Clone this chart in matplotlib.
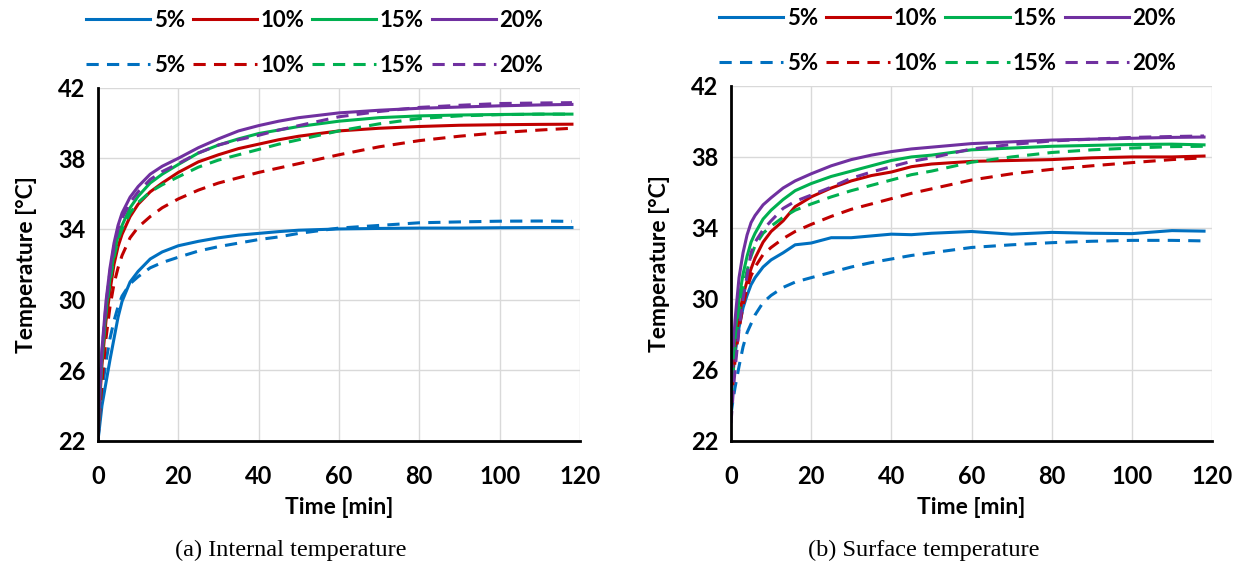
import numpy as np
import matplotlib.pyplot as plt
from matplotlib.lines import Line2D

plt.rcParams['font.family'] = ['Lato', 'DejaVu Sans']
plt.rcParams['font.weight'] = 'bold'

# time [min]
t = [0, 0.5, 1, 2, 3, 4, 5, 6, 8, 10, 13, 16, 20, 25, 30, 35, 40, 45, 50, 60, 70, 80, 90, 100, 110, 118]

# (a) internal temperature, solid / dashed
int_5 = [22.0, 23.0, 24.0, 25.3, 26.6, 27.8, 29.0, 29.9, 31.0, 31.6, 32.3, 32.7, 33.05, 33.3, 33.5, 33.65, 33.75, 33.85, 33.93, 34.0, 34.03, 34.05, 34.05, 34.07, 34.08, 34.08]
int_10 = [22.0, 24.5, 26.3, 28.8, 30.5, 32.0, 33.0, 33.7, 34.7, 35.4, 36.1, 36.6, 37.2, 37.8, 38.2, 38.55, 38.8, 39.05, 39.25, 39.55, 39.7, 39.8, 39.87, 39.9, 39.92, 39.93]
int_15 = [22.0, 24.8, 26.8, 29.4, 31.2, 32.6, 33.6, 34.2, 35.2, 35.85, 36.6, 37.1, 37.65, 38.3, 38.75, 39.1, 39.4, 39.6, 39.8, 40.1, 40.3, 40.4, 40.45, 40.48, 40.5, 40.5]
int_20 = [22.0, 25.0, 27.2, 29.9, 31.8, 33.2, 34.2, 34.9, 35.8, 36.4, 37.1, 37.55, 38.0, 38.6, 39.1, 39.55, 39.85, 40.1, 40.3, 40.57, 40.72, 40.83, 40.9, 40.97, 41.02, 41.05]
int_5d = [22.0, 23.5, 24.8, 26.5, 27.8, 28.8, 29.6, 30.2, 30.9, 31.3, 31.8, 32.1, 32.4, 32.75, 33.0, 33.2, 33.4, 33.55, 33.75, 34.05, 34.2, 34.35, 34.4, 34.44, 34.45, 34.43]
int_10d = [22.0, 23.8, 25.3, 27.8, 29.6, 30.9, 31.8, 32.5, 33.5, 34.1, 34.7, 35.2, 35.7, 36.2, 36.6, 36.9, 37.2, 37.45, 37.7, 38.2, 38.65, 39.0, 39.25, 39.45, 39.6, 39.7]
int_15d = [22.0, 24.6, 26.5, 29.2, 31.0, 32.4, 33.4, 34.0, 34.9, 35.5, 36.1, 36.5, 36.95, 37.5, 37.9, 38.2, 38.5, 38.8, 39.05, 39.55, 39.95, 40.25, 40.4, 40.47, 40.5, 40.5]
int_20d = [22.0, 24.9, 27.0, 29.7, 31.6, 33.0, 34.0, 34.6, 35.5, 36.1, 36.8, 37.25, 37.7, 38.3, 38.75, 39.05, 39.3, 39.6, 39.85, 40.35, 40.65, 40.88, 41.0, 41.1, 41.13, 41.15]

# (b) surface temperature, solid / dashed
sur_5 = [24.5, 25.8, 26.9, 28.4, 29.5, 30.2, 30.8, 31.2, 31.8, 32.2, 32.6, 33.05, 33.15, 33.45, 33.45, 33.55, 33.65, 33.62, 33.7, 33.8, 33.65, 33.75, 33.7, 33.68, 33.85, 33.82]
sur_10 = [24.5, 26.0, 27.3, 29.0, 30.2, 31.0, 31.7, 32.3, 33.2, 33.8, 34.4, 35.2, 35.75, 36.25, 36.65, 36.95, 37.15, 37.45, 37.6, 37.75, 37.8, 37.85, 37.95, 38.0, 38.0, 38.05]
sur_15 = [24.5, 26.5, 28.0, 30.0, 31.4, 32.4, 33.2, 33.7, 34.5, 35.0, 35.6, 36.1, 36.5, 36.9, 37.2, 37.5, 37.8, 38.0, 38.1, 38.4, 38.5, 38.6, 38.65, 38.7, 38.72, 38.68]
sur_20 = [24.5, 27.0, 28.8, 31.2, 32.6, 33.6, 34.3, 34.7, 35.3, 35.7, 36.25, 36.65, 37.05, 37.5, 37.85, 38.1, 38.3, 38.45, 38.55, 38.75, 38.85, 38.95, 39.0, 39.05, 39.1, 39.12]
sur_5d = [23.5, 24.3, 25.0, 26.2, 27.3, 28.1, 28.6, 29.1, 29.8, 30.2, 30.65, 30.95, 31.2, 31.5, 31.8, 32.05, 32.25, 32.45, 32.6, 32.9, 33.05, 33.17, 33.25, 33.3, 33.3, 33.27]
sur_10d = [24.0, 25.3, 26.5, 28.3, 29.6, 30.6, 31.3, 31.8, 32.5, 32.9, 33.4, 33.8, 34.2, 34.65, 35.05, 35.35, 35.65, 35.95, 36.2, 36.7, 37.05, 37.3, 37.5, 37.68, 37.85, 37.95]
sur_15d = [24.3, 25.8, 27.2, 29.2, 30.6, 31.6, 32.4, 33.0, 33.7, 34.1, 34.6, 35.0, 35.35, 35.75, 36.1, 36.4, 36.7, 37.0, 37.2, 37.7, 38.0, 38.25, 38.4, 38.5, 38.58, 38.6]
sur_20d = [23.0, 24.6, 26.0, 28.3, 30.0, 31.3, 32.6, 33.2, 33.9, 34.4, 35.1, 35.5, 35.85, 36.3, 36.8, 37.15, 37.45, 37.75, 37.95, 38.45, 38.7, 38.9, 39.0, 39.1, 39.15, 39.18]

labels = ['5%', '10%', '15%', '20%']
colors = ['#0070C0', '#C00000', '#00B050', '#7030A0']
captions = ['(a) Internal temperature', '(b) Surface temperature']

panels = [
    ([int_5, int_10, int_15, int_20], [int_5d, int_10d, int_15d, int_20d]),
    ([sur_5, sur_10, sur_15, sur_20], [sur_5d, sur_10d, sur_15d, sur_20d]),
]

fig = plt.figure(figsize=(12.43, 5.69), dpi=100)
axes = [fig.add_axes([0.0788, 0.225, 0.3878, 0.621]),
        fig.add_axes([0.5881, 0.225, 0.3870, 0.624])]

lw = 2.2
dash = (4, 2.7)

for ax, (solid, dashed), cap in zip(axes, panels, captions):
    for c, y in zip(colors, solid):
        ax.plot(t, y, color=c, lw=lw, zorder=3)
    for c, y in zip(colors, dashed):
        ax.plot(t, y, color=c, lw=lw, ls=(0, dash), zorder=3)
    ax.set_xlim(0, 120)
    ax.set_ylim(22, 42)
    ax.set_xticks(np.arange(0, 121, 20))
    ax.set_yticks(np.arange(22, 43, 4))
    ax.grid(color='#d9d9d9', lw=1.0, zorder=0)
    ax.set_axisbelow(True)
    for s in ['top', 'right']:
        ax.spines[s].set_visible(False)
    for s in ['left', 'bottom']:
        ax.spines[s].set_linewidth(2.0)
        ax.spines[s].set_zorder(4)
    ax.tick_params(length=0, labelsize=17, pad=9)
    ax.tick_params(axis='x', pad=17)
    ax.set_xlabel('Time [min]', fontsize=16.5, fontweight='bold', labelpad=7)
    ax.set_ylabel('Temperature [°C]', fontsize=16.5, fontweight='bold', labelpad=15)

    h1 = [Line2D([], [], color=c, lw=lw) for c in colors]
    h2 = [Line2D([], [], color=c, lw=lw, ls=(0, dash)) for c in colors]
    kw = dict(ncol=4, frameon=False, loc='center left', fontsize=16,
              handlelength=2.9, handletextpad=0.15, columnspacing=0.35,
              borderaxespad=0, borderpad=0)
    leg1 = ax.legend(h1, labels, bbox_to_anchor=(-0.025, 1.19), **kw)
    ax.add_artist(leg1)
    ax.legend(h2, labels, bbox_to_anchor=(-0.025, 1.063), **kw)

    bb = ax.get_position()
    fig.text(bb.x0 + bb.width * 0.40, 0.033, cap, ha='center', va='center',
             fontsize=17.5, family='Liberation Serif', fontweight='normal')

fig.savefig('out.png', dpi=100, facecolor='white')
